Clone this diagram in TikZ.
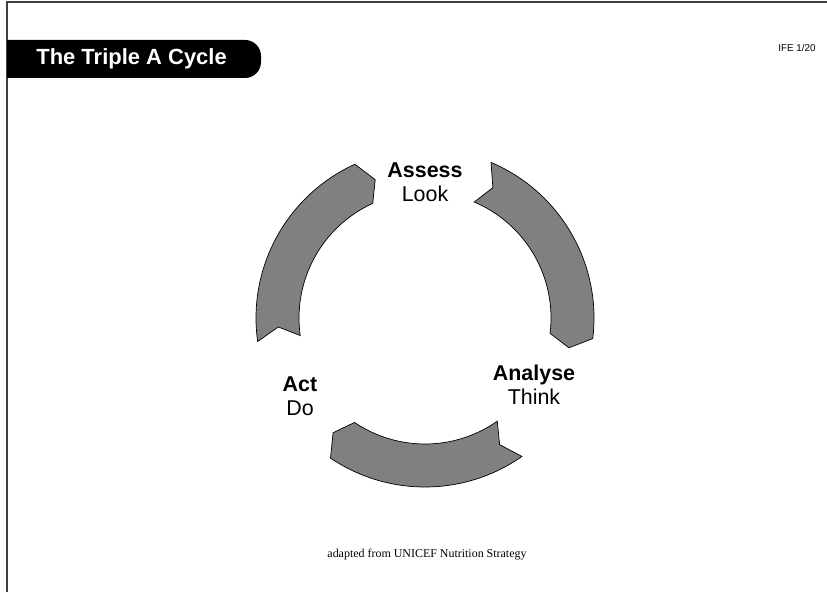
\documentclass[tikz,border=0pt]{standalone}
\usepackage{fontspec}
\setmainfont{Liberation Sans}
\newfontfamily\notefont{Liberation Serif}
\usepackage{tikz}
\usetikzlibrary{arrows,shapes,positioning,calc}
\tikzstyle{frame}=[draw=black!75, line width=0.8pt]
\tikzstyle{cyc}=[fill=black!50, draw=black, line width=0.4pt]
\tikzstyle{lbl}=[align=center, inner sep=0pt, font=\fontsize{12.2pt}{13.6pt}\selectfont]
% one arrow of the cycle: tail angle, head angle
\newcommand{\cyclearc}[2]{%
  \draw[cyc] (#1:169) -- ({#1-4.5}:147) -- (#1:126)
    arc[start angle=#1, end angle=#2, radius=126]
    -- ({#2-4.7}:147) -- (#2:169)
    arc[start angle=#2, end angle=#1, radius=169] -- cycle;}

\begin{document}
\begin{tikzpicture}[x=0.02cm, y=0.02cm]
				\useasboundingbox (0,0) rectangle (827,592);
				\draw[frame] (7,0) -- (7,590) -- (827,590);
				\fill[black] (7,552) -- (245,552) arc[start angle=90, end angle=0, radius=16] -- (261,530)
					arc[start angle=0, end angle=-90, radius=16] -- (7,514) -- cycle;
				\node(title)[anchor=west, inner sep=0pt, text=white, font=\fontsize{12.5pt}{14pt}\selectfont\bfseries] at (36,533) {The Triple A Cycle};
				\node(ife)[inner sep=0pt, font=\fontsize{5.6pt}{6pt}\selectfont] at (797,544) {IFE 1/20};
				\coordinate(C) at (425,274);
				\begin{scope}[shift={(C)}]
					\cyclearc{67}{-7}
					\cyclearc{-55}{-124}
					\cyclearc{188}{114.5}
				\end{scope}
				\node(assess)[lbl] at (425,410) {\textbf{Assess}\\Look};
				\node(analyse)[lbl] at (534,207) {\textbf{Analyse}\\Think};
				\node(act)[lbl] at (300,196) {\textbf{Act}\\Do};
				\node(note)[inner sep=0pt, font=\notefont\fontsize{6.8pt}{8pt}\selectfont] at (427,37) {adapted from UNICEF Nutrition Strategy};
			\end{tikzpicture}
\end{document}
